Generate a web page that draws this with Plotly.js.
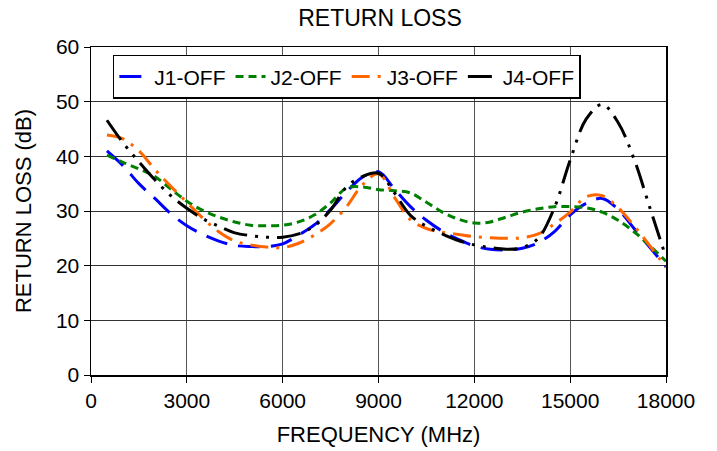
<!DOCTYPE html>
<html>
<head>
<meta charset="utf-8">
<script src="https://cdn.plot.ly/plotly-3.0.1.min.js"></script>
<style>html,body{margin:0;padding:0;background:#fff;}#chart{width:717px;height:451px;}</style>
</head>
<body>
<div id="chart"></div>
<script>
const freq = [500,1000,1500,2000,2500,3000,3500,4000,4500,5000,5500,6000,6500,7000,7500,8000,8500,9000,9500,10000,10500,11000,11500,12000,12500,13000,13500,14000,14500,15000,15500,16000,16500,17000,17500,18000];
const j1 = [41.0,38.3,35.0,32.3,29.5,27.3,25.7,24.5,23.7,23.5,23.5,24.0,25.6,27.5,30.3,33.5,36.2,37.2,34.0,30.8,28.3,26.3,24.8,23.6,23.0,22.9,23.2,24.2,26.2,29.3,31.4,32.3,30.3,26.8,23.3,19.8];
const j2 = [40.2,38.9,37.7,36.3,34.0,31.8,30.1,28.9,28.0,27.4,27.3,27.4,28.0,29.3,31.5,34.2,34.4,33.9,33.7,33.3,31.6,29.8,28.5,27.8,28.0,28.9,29.8,30.4,30.8,30.8,30.6,29.8,28.3,26.2,23.6,20.8];
const j3 = [43.9,43.2,41.0,37.6,34.5,31.6,28.7,26.2,24.5,23.8,23.4,23.3,24.1,25.6,27.7,30.8,34.8,36.8,32.5,28.4,26.8,26.1,25.7,25.3,25.1,25.0,25.1,25.8,27.6,29.8,32.6,32.8,30.6,27.3,23.6,19.7];
const j4 = [46.6,42.5,39.0,35.7,32.8,30.5,28.6,27.2,26.0,25.5,25.2,25.2,25.8,27.3,30.2,34.4,36.3,36.9,33.3,29.2,27.2,25.8,24.6,23.8,23.3,23.0,23.3,25.0,30.5,39.3,46.8,49.5,46.2,39.5,30.5,21.5];
const names = ['J1-OFF','J2-OFF','J3-OFF','J4-OFF'];
const xTicks = [0,3000,6000,9000,12000,15000,18000];
const yTicks = [0,10,20,30,40,50,60];

const series = [j1,j2,j3,j4];
const colors = ['#0000ff','#008000','#ff6600','#000000'];
const dashes = ['22px,11px','8px,5px','18px,8px,3px,8px','24px,8px,3px,8px,3px,8px'];
const traces = series.map((s,i)=>({
  x: freq, y: s, name: names[i], type:'scatter', mode:'lines',
  line:{color:colors[i], width:3, dash:dashes[i], shape:'spline', smoothing:1}
}));
const F = 'Liberation Sans, Arial, sans-serif';
const layout = {
  width:717, height:451,
  margin:{l:91, r:51, t:47, b:76},
  paper_bgcolor:'#fff', plot_bgcolor:'#fff',
  font:{family:F, size:21, color:'#000'},
  title:{text:'RETURN LOSS', font:{family:F, size:23, color:'#000'}, x:0.53, xanchor:'center', y:0.978, yanchor:'top'},
  xaxis:{range:[0,18000], tickvals:xTicks, ticktext:xTicks.map(String), showgrid:true, gridcolor:'#555', gridwidth:1,
    showline:true, linecolor:'#000', linewidth:1.5, mirror:true, ticks:'outside', ticklen:6, tickcolor:'#000', zeroline:false,
    tickfont:{family:F, size:21},
    title:{text:'FREQUENCY (MHz)', font:{family:F, size:22}, standoff:16}},
  yaxis:{range:[0,60], tickvals:yTicks, ticktext:yTicks.map(String), showgrid:true, gridcolor:'#333', gridwidth:1,
    showline:true, linecolor:'#000', linewidth:1.5, mirror:true, ticks:'outside', ticklen:6, tickcolor:'#000', zeroline:false,
    tickfont:{family:F, size:21},
    title:{text:'RETURN LOSS (dB)', font:{family:F, size:22}, standoff:18}},
  legend:{orientation:'h', x:0.038, y:0.976, xanchor:'left', yanchor:'top', bordercolor:'#000', borderwidth:1.5, bgcolor:'#fff',
    font:{family:F, size:21}, itemwidth:30, tracegroupgap:0},
  showlegend:true
};
Plotly.newPlot('chart', traces, layout, {staticPlot:true, displayModeBar:false});
</script>
</body>
</html>
